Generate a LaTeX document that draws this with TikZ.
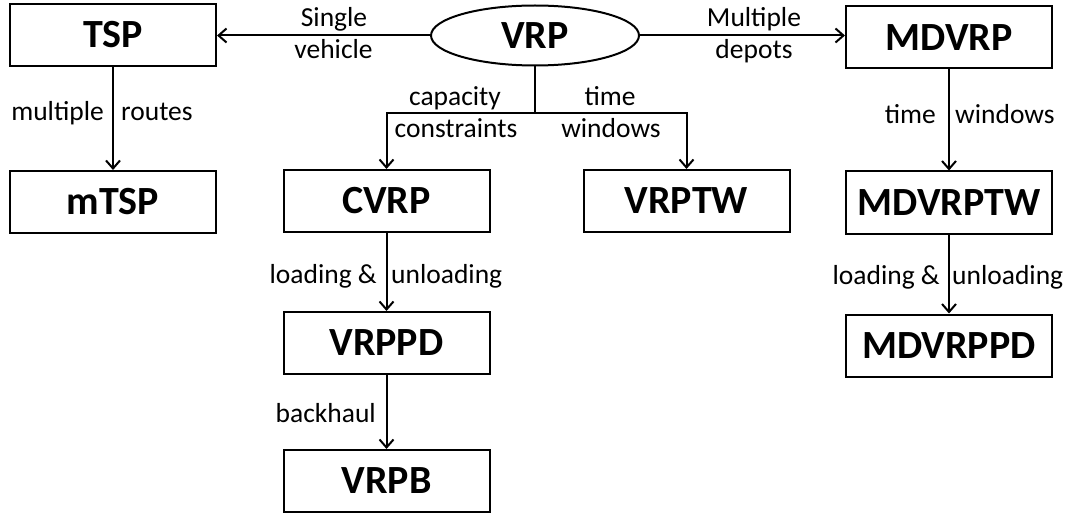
\documentclass[tikz,border=0pt]{standalone}
\usepackage{fontspec}
\setmainfont{Carlito}
\usetikzlibrary{arrows.meta,shapes.geometric}
\begin{document}
\begin{tikzpicture}[x=1pt,y=-1pt,
  probbox/.style={draw,line width=2pt,minimum width=206pt,minimum height=62pt,inner sep=0pt,
    font=\fontsize{40}{42}\selectfont\bfseries},
  probell/.style={ellipse,draw,line width=2pt,minimum width=208pt,minimum height=60pt,inner sep=0pt,
    font=\fontsize{40}{42}\selectfont\bfseries},
  lbl/.style={inner sep=0pt,font=\fontsize{27.5}{30}\selectfont},
  conn/.style={line width=2pt,-{Straight Barb[length=8pt,width=14pt,line width=2pt]}},
  plain/.style={line width=2pt}]
\useasboundingbox (0,0) rectangle (1077,516);
% nodes
\node[probbox] (tsp) at (113,35) {TSP};
\node[probbox] (mtsp) at (113,202) {mTSP};
\node[probell] (vrp) at (535,35.5) {VRP};
\node[probbox] (mdvrp) at (949,37.5) {MDVRP};
\node[probbox] (cvrp) at (386.5,201) {CVRP};
\node[probbox] (vrptw) at (686.5,201) {VRPTW};
\node[probbox] (mdvrptw) at (949,202.5) {MDVRPTW};
\node[probbox] (vrppd) at (386.5,343) {VRPPD};
\node[probbox] (mdvrppd) at (949,345.5) {MDVRPPD};
\node[probbox] (vrpb) at (386.5,481) {VRPB};
% junction
\coordinate (j) at (535,113);
% connectors
\draw[conn] (vrp.west) -- (vrp.west -| tsp.east);
\draw[conn] (vrp.east) -- (vrp.east -| mdvrp.west);
\draw[plain] (vrp.south) -- (j);
\draw[conn] (j) -| (cvrp.north);
\draw[conn] (j) -| (vrptw.north);
\draw[conn] (tsp) -- (mtsp);
\draw[conn] (mdvrp) -- (mdvrptw);
\draw[conn] (mdvrptw) -- (mdvrppd);
\draw[conn] (cvrp) -- (vrppd);
\draw[conn] (vrppd) -- (vrpb);
% labels
\node[lbl,anchor=base] (l1) at (334,27) {Single};
\node[lbl,anchor=base] (l2) at (333.5,59) {vehicle};
\node[lbl,anchor=base] (l3) at (754,27) {Multiple};
\node[lbl,anchor=base] (l4) at (754,59) {depots};
\node[lbl,anchor=base] (l5) at (455,106) {capacity};
\node[lbl,anchor=base] (l6) at (456,138) {constraints};
\node[lbl,anchor=base] (l7) at (610,106) {time};
\node[lbl,anchor=base] (l8) at (611,138) {windows};
\node[lbl,anchor=base east] (l9) at (104,121) {multiple};
\node[lbl,anchor=base west] (l10) at (121,121) {routes};
\node[lbl,anchor=base east] (l11) at (936,124) {time};
\node[lbl,anchor=base west] (l12) at (955,124) {windows};
\node[lbl,anchor=base east] (l13) at (377,283) {loading \&};
\node[lbl,anchor=base west] (l14) at (391,283) {unloading};
\node[lbl,anchor=base east] (l15) at (940,284) {loading \&};
\node[lbl,anchor=base west] (l16) at (952,284) {unloading};
\node[lbl,anchor=base east] (l17) at (376,422) {backhaul};
\end{tikzpicture}
\end{document}
